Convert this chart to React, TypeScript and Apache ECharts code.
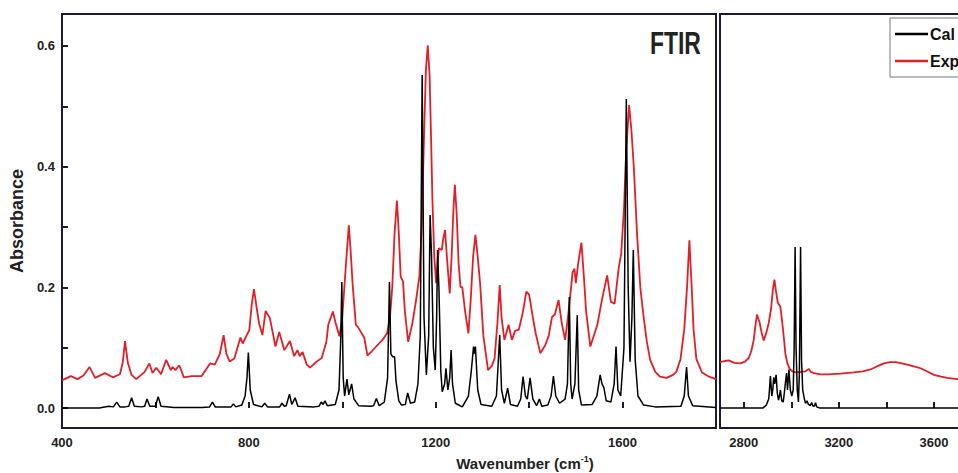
import React, { useEffect, useRef } from 'react';
import * as echarts from 'echarts';

// ---- tick / label values ----
const xTicksLeft = [600, 800, 1000, 1200, 1400, 1600];
const xLabelsLeft = [400, 800, 1200, 1600];
const xTicksRight = [2800, 3000, 3200, 3400, 3600, 3800];
const xLabelsRight = [2800, 3200, 3600];
const yTicks = [0, 0.1, 0.2, 0.3, 0.4, 0.5, 0.6];
const yLabels = [0, 0.2, 0.4, 0.6];
const legendNames = ['Cal', 'Exp'];

// ---- calculated spectrum, fingerprint region (wavenumber, absorbance) ----
const calFingerprint: [number, number][] = [
  [400, 0.0], [480, 0.0], [500, 0.003], [510, 0.002], [517, 0.01], [524, 0.002],
  [535, 0.002], [543, 0.003], [549, 0.017], [555, 0.003], [570, 0.002], [577, 0.003],
  [582, 0.015], [588, 0.003], [600, 0.003], [606, 0.019], [612, 0.003], [640, 0.001],
  [700, 0.001], [716, 0.002], [722, 0.01], [728, 0.002], [762, 0.002], [767, 0.007],
  [772, 0.002], [785, 0.005], [792, 0.02], [796, 0.05], [799, 0.092], [803, 0.03],
  [810, 0.006], [828, 0.002], [834, 0.008], [840, 0.002], [866, 0.002], [871, 0.008],
  [876, 0.003], [880, 0.004], [887, 0.023], [892, 0.006], [899, 0.017], [905, 0.003],
  [940, 0.002], [950, 0.003], [955, 0.01], [959, 0.006], [963, 0.012], [968, 0.004],
  [985, 0.006], [993, 0.03], [997, 0.12], [999, 0.209], [1002, 0.05], [1005, 0.02],
  [1010, 0.048], [1014, 0.022], [1020, 0.04], [1025, 0.015], [1035, 0.004], [1060, 0.003],
  [1067, 0.004], [1073, 0.016], [1079, 0.004], [1090, 0.01], [1097, 0.05], [1101, 0.209],
  [1104, 0.09], [1108, 0.085], [1112, 0.085], [1115, 0.045], [1121, 0.012], [1127, 0.005],
  [1135, 0.006], [1140, 0.025], [1146, 0.008], [1155, 0.01], [1162, 0.04], [1167, 0.12],
  [1171, 0.552], [1175, 0.15], [1180, 0.055], [1185, 0.12], [1188, 0.32], [1191, 0.255],
  [1195, 0.1], [1199, 0.063], [1202, 0.15], [1204, 0.262], [1207, 0.196], [1211, 0.06],
  [1214, 0.027], [1219, 0.04], [1222, 0.066], [1226, 0.03], [1230, 0.05], [1233, 0.096],
  [1236, 0.04], [1242, 0.008], [1257, 0.002], [1270, 0.02], [1276, 0.06], [1281, 0.102],
  [1283, 0.09], [1285, 0.102], [1290, 0.03], [1297, 0.006], [1320, 0.003], [1330, 0.02],
  [1337, 0.121], [1341, 0.03], [1347, 0.008], [1354, 0.033], [1360, 0.006], [1375, 0.003],
  [1382, 0.015], [1387, 0.052], [1392, 0.02], [1396, 0.015], [1402, 0.05], [1408, 0.015],
  [1416, 0.004], [1422, 0.015], [1427, 0.003], [1440, 0.005], [1447, 0.02], [1452, 0.053],
  [1457, 0.02], [1465, 0.008], [1477, 0.015], [1482, 0.04], [1486, 0.184], [1489, 0.04],
  [1492, 0.015], [1498, 0.04], [1503, 0.154], [1506, 0.03], [1512, 0.005], [1535, 0.006],
  [1545, 0.02], [1552, 0.055], [1556, 0.04], [1560, 0.034], [1565, 0.012], [1575, 0.01],
  [1582, 0.04], [1586, 0.102], [1590, 0.03], [1596, 0.02], [1603, 0.1], [1608, 0.512],
  [1612, 0.2], [1616, 0.077], [1620, 0.15], [1623, 0.262], [1627, 0.08], [1633, 0.02],
  [1645, 0.005], [1670, 0.002], [1725, 0.003], [1732, 0.02], [1737, 0.068], [1741, 0.02],
  [1750, 0.004], [1800, 0.001],
];

// ---- experimental spectrum, fingerprint region ----
const expFingerprint: [number, number][] = [
  [400, 0.046], [419, 0.053], [433, 0.048], [446, 0.054], [459, 0.068], [471, 0.05],
  [492, 0.058], [509, 0.051], [524, 0.056], [530, 0.075], [535, 0.111], [541, 0.075],
  [549, 0.055], [559, 0.048], [577, 0.06], [587, 0.074], [594, 0.058], [602, 0.067],
  [612, 0.056], [623, 0.08], [633, 0.063], [637, 0.068], [643, 0.063], [651, 0.071],
  [661, 0.051], [678, 0.053], [699, 0.053], [717, 0.074], [727, 0.072], [738, 0.09],
  [746, 0.121], [752, 0.09], [759, 0.077], [769, 0.082], [782, 0.117], [787, 0.107],
  [795, 0.12], [801, 0.129], [806, 0.17], [811, 0.197], [816, 0.17], [822, 0.14],
  [829, 0.121], [836, 0.161], [845, 0.149], [857, 0.102], [865, 0.126], [876, 0.096],
  [888, 0.111], [897, 0.086], [904, 0.096], [909, 0.086], [915, 0.093], [924, 0.072],
  [931, 0.067], [945, 0.077], [956, 0.083], [966, 0.11], [970, 0.138], [980, 0.16],
  [986, 0.14], [994, 0.119], [1000, 0.15], [1008, 0.24], [1014, 0.303], [1018, 0.26],
  [1022, 0.207], [1029, 0.138], [1033, 0.135], [1047, 0.117], [1054, 0.087], [1064, 0.095],
  [1086, 0.113], [1096, 0.124], [1102, 0.15], [1107, 0.2], [1112, 0.29], [1117, 0.344],
  [1121, 0.29], [1125, 0.218], [1130, 0.21], [1134, 0.16], [1141, 0.11], [1150, 0.14],
  [1158, 0.179], [1165, 0.218], [1170, 0.3], [1175, 0.45], [1179, 0.56], [1183, 0.601],
  [1187, 0.55], [1190, 0.45], [1193, 0.345], [1197, 0.25], [1201, 0.207], [1204, 0.24],
  [1207, 0.265], [1213, 0.262], [1216, 0.28], [1220, 0.295], [1224, 0.25], [1230, 0.19],
  [1234, 0.25], [1238, 0.33], [1241, 0.37], [1245, 0.32], [1249, 0.24], [1253, 0.201],
  [1257, 0.2], [1263, 0.16], [1270, 0.124], [1275, 0.18], [1280, 0.25], [1285, 0.287],
  [1290, 0.25], [1295, 0.207], [1302, 0.12], [1312, 0.063], [1320, 0.07], [1326, 0.082],
  [1332, 0.14], [1337, 0.204], [1341, 0.15], [1347, 0.113], [1356, 0.138], [1363, 0.113],
  [1370, 0.128], [1378, 0.13], [1386, 0.157], [1394, 0.193], [1400, 0.188], [1408, 0.15],
  [1414, 0.124], [1424, 0.091], [1435, 0.105], [1442, 0.12], [1449, 0.151], [1455, 0.155],
  [1463, 0.179], [1470, 0.14], [1477, 0.113], [1483, 0.15], [1487, 0.179], [1493, 0.225],
  [1497, 0.231], [1500, 0.207], [1505, 0.24], [1512, 0.274], [1517, 0.22], [1522, 0.16],
  [1531, 0.102], [1546, 0.138], [1556, 0.18], [1567, 0.22], [1575, 0.176], [1583, 0.173],
  [1592, 0.234], [1597, 0.255], [1603, 0.33], [1608, 0.43], [1614, 0.502], [1619, 0.46],
  [1624, 0.4], [1631, 0.289], [1638, 0.2], [1645, 0.151], [1652, 0.11], [1659, 0.08],
  [1670, 0.06], [1680, 0.052], [1694, 0.05], [1708, 0.055], [1715, 0.06], [1724, 0.081],
  [1732, 0.13], [1738, 0.2], [1743, 0.278], [1748, 0.2], [1752, 0.13], [1758, 0.081],
  [1770, 0.059], [1785, 0.052], [1800, 0.048],
];

// ---- calculated spectrum, C-H / O-H stretch region ----
const calStretch: [number, number][] = [
  [2700, 0.0], [2880, 0.0], [2895, 0.005], [2905, 0.015], [2908, 0.03], [2912, 0.053],
  [2918, 0.02], [2922, 0.03], [2926, 0.051], [2930, 0.04], [2936, 0.055], [2941, 0.025],
  [2946, 0.013], [2950, 0.02], [2954, 0.03], [2960, 0.012], [2966, 0.01], [2972, 0.03],
  [2976, 0.045], [2980, 0.058], [2984, 0.03], [2990, 0.064], [2996, 0.03], [3002, 0.02],
  [3008, 0.03], [3012, 0.1], [3016, 0.267], [3020, 0.1], [3025, 0.03], [3030, 0.01],
  [3034, 0.06], [3039, 0.267], [3043, 0.08], [3048, 0.03], [3055, 0.015], [3060, 0.008],
  [3066, 0.012], [3072, 0.006], [3080, 0.004], [3086, 0.009], [3091, 0.003], [3098, 0.004],
  [3102, 0.009], [3107, 0.002], [3120, 0.0], [4000, 0.0],
];

// ---- experimental spectrum, stretch region ----
const expStretch: [number, number][] = [
  [2700, 0.076], [2720, 0.078], [2737, 0.079], [2760, 0.075], [2786, 0.074], [2805, 0.077],
  [2821, 0.083], [2832, 0.095], [2842, 0.113], [2850, 0.14], [2856, 0.155], [2861, 0.148],
  [2866, 0.143], [2875, 0.125], [2884, 0.112], [2895, 0.125], [2905, 0.141], [2915, 0.165],
  [2922, 0.195], [2929, 0.213], [2935, 0.195], [2943, 0.175], [2954, 0.168], [2961, 0.145],
  [2968, 0.119], [2975, 0.09], [2983, 0.075], [2993, 0.065], [3004, 0.061], [3020, 0.059],
  [3039, 0.06], [3060, 0.061], [3074, 0.065], [3082, 0.06], [3095, 0.058], [3123, 0.056],
  [3151, 0.056], [3207, 0.057], [3263, 0.059], [3300, 0.061], [3333, 0.064], [3360, 0.069],
  [3390, 0.074], [3415, 0.076], [3439, 0.076], [3465, 0.074], [3488, 0.072], [3515, 0.069],
  [3544, 0.066], [3570, 0.061], [3600, 0.055], [3630, 0.052], [3656, 0.05], [3698, 0.048],
  [3750, 0.047], [3850, 0.046], [4000, 0.045],
];

const FRAME = '#1b1b33';
const FONT = '"Liberation Sans", Arial, Helvetica, sans-serif';
const RED = '#e41e26';
const BLACK = '#000000';
const Y_MIN = -0.033;
const Y_MAX = 0.653;

export default function App() {
  const ref = useRef<HTMLDivElement>(null);

  useEffect(() => {
    if (!ref.current) return;
    const chart = echarts.init(ref.current, null, { renderer: 'svg' });

    const tickLabel = {
      color: '#222',
      fontWeight: 'bold' as const,
      fontSize: 13,
      fontFamily: FONT,
    };

    const option: any = {
      animation: false,
      backgroundColor: '#ffffff',
      grid: [
        { left: 51, top: 14, width: 665, height: 414, show: true, borderColor: FRAME, borderWidth: 2, backgroundColor: 'transparent' },
        { left: 720, top: 14, width: 309, height: 414, show: true, borderColor: FRAME, borderWidth: 2, backgroundColor: 'transparent' },
      ],
      xAxis: [
        {
          gridIndex: 0, type: 'value', min: 400, max: 1800,
          axisLine: { show: false }, splitLine: { show: false },
          axisTick: { show: true, inside: true, length: 6, customValues: xTicksLeft, lineStyle: { color: FRAME, width: 2 } },
          axisLabel: { ...tickLabel, customValues: xLabelsLeft, margin: 8, formatter: (v: number) => String(v) },
        },
        {
          gridIndex: 1, type: 'value', min: 2700, max: 4000,
          axisLine: { show: false }, splitLine: { show: false },
          axisTick: { show: true, inside: true, length: 6, customValues: xTicksRight, lineStyle: { color: FRAME, width: 2 } },
          axisLabel: { ...tickLabel, customValues: xLabelsRight, margin: 8, formatter: (v: number) => String(v) },
        },
      ],
      yAxis: [
        {
          gridIndex: 0, type: 'value', min: Y_MIN, max: Y_MAX,
          name: 'Absorbance', nameLocation: 'middle', nameGap: 25,
          nameTextStyle: { color: '#222', fontWeight: 'bold', fontSize: 18, fontFamily: FONT },
          axisLine: { show: false }, splitLine: { show: false },
          axisTick: { show: true, inside: true, length: 6, customValues: yTicks, lineStyle: { color: FRAME, width: 2 } },
          axisLabel: { ...tickLabel, customValues: yLabels, margin: 7, formatter: (v: number) => v.toFixed(1) },
        },
        {
          gridIndex: 1, type: 'value', min: Y_MIN, max: Y_MAX,
          axisLine: { show: false }, splitLine: { show: false },
          axisTick: { show: false }, axisLabel: { show: false },
        },
      ],
      legend: {
        data: legendNames.map((n) => ({ name: n, icon: 'rect' })),
        orient: 'vertical',
        left: 890,
        top: 18,
        padding: [8, 10, 8, 5],
        itemGap: 11,
        itemWidth: 33,
        itemHeight: 2.5,
        backgroundColor: '#ffffff',
        borderColor: '#777777',
        borderWidth: 1,
        textStyle: { color: '#111', fontSize: 16, fontWeight: 'bold', fontFamily: FONT, padding: [0, 0, 0, -3] },
      },
      graphic: [
        {
          type: 'text', x: 650, y: 28, scaleX: 0.74, z: 10,
          style: { text: 'FTIR', font: `bold 31px ${FONT}`, fill: '#222' },
        },
        {
          type: 'text', x: 525, y: 463, z: 10,
          style: {
            text: '{a|Wavenumber (cm}{s|-1}{a|)}',
            align: 'center',
            verticalAlign: 'middle',
            rich: {
              a: { fontSize: 15, fontWeight: 'bold', fontFamily: FONT, fill: '#222', lineHeight: 18 },
              s: { fontSize: 9, fontWeight: 'bold', fontFamily: FONT, fill: '#222', verticalAlign: 'top', lineHeight: 18 },
            },
          },
        },
      ],
      series: [
        { name: 'Exp', type: 'line', xAxisIndex: 0, yAxisIndex: 0, data: expFingerprint, symbol: 'none', showSymbol: false, smooth: false, lineStyle: { color: RED, width: 1.8 }, itemStyle: { color: RED } },
        { name: 'Exp', type: 'line', xAxisIndex: 1, yAxisIndex: 1, data: expStretch, symbol: 'none', showSymbol: false, smooth: false, lineStyle: { color: RED, width: 1.8 }, itemStyle: { color: RED } },
        { name: 'Cal', type: 'line', xAxisIndex: 0, yAxisIndex: 0, data: calFingerprint, symbol: 'none', showSymbol: false, smooth: false, lineStyle: { color: BLACK, width: 1.5 }, itemStyle: { color: BLACK } },
        { name: 'Cal', type: 'line', xAxisIndex: 1, yAxisIndex: 1, data: calStretch, symbol: 'none', showSymbol: false, smooth: false, lineStyle: { color: BLACK, width: 1.5 }, itemStyle: { color: BLACK } },
      ],
    };

    chart.setOption(option);
    return () => {
      chart.dispose();
    };
  }, []);

  return (
    <div style={{ position: 'fixed', left: 0, top: 0, width: 958, height: 473, overflow: 'hidden', background: '#fff' }}>
      <div ref={ref} style={{ width: 1060, height: 473 }} />
    </div>
  );
}
